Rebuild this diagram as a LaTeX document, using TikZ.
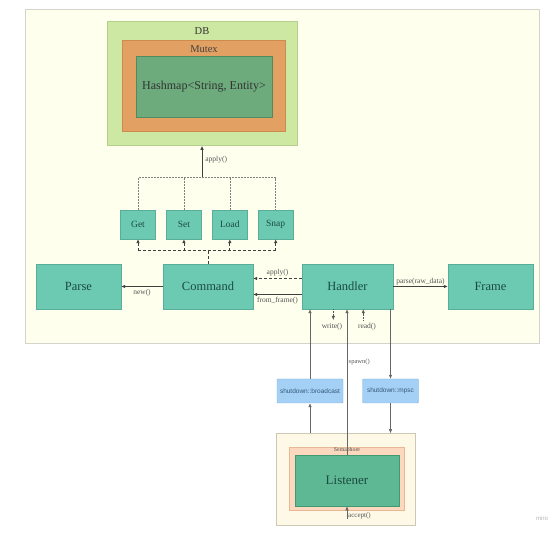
\documentclass[tikz,border=0pt]{standalone}
\usepackage{fontspec}
\setmainfont{Liberation Serif}
\setsansfont{Liberation Sans}
\usepackage{xcolor}
\usetikzlibrary{arrows.meta,positioning}
\definecolor{framebg}{HTML}{FFFFEE}
\definecolor{frameline}{HTML}{D4D4CC}
\definecolor{dbgreen}{HTML}{CDE8A2}
\definecolor{dbline}{HTML}{B4D08C}
\definecolor{mutexorange}{HTML}{E2A062}
\definecolor{mutexline}{HTML}{CF8A4E}
\definecolor{hashgreen}{HTML}{6DAA7C}
\definecolor{hashline}{HTML}{4F8A60}
\definecolor{tealfill}{HTML}{6CCAB2}
\definecolor{tealline}{HTML}{58AE98}
\definecolor{tealtext}{HTML}{1B4A42}
\definecolor{shutblue}{HTML}{A4D0F5}
\definecolor{shutline}{HTML}{7EB2E2}
\definecolor{shuttext}{HTML}{35587A}
\definecolor{lcream}{HTML}{FDF9E6}
\definecolor{lcreamline}{HTML}{CCC8B4}
\definecolor{sempeach}{HTML}{FCD9BE}
\definecolor{sempeachline}{HTML}{E6B896}
\definecolor{listgreen}{HTML}{5FB894}
\definecolor{listline}{HTML}{3F9A74}
\definecolor{lblgray}{HTML}{555555}
\tikzset{
  container/.style={
    draw,
    line width=0.6pt,
    inner sep=0pt
  },
  teal/.style={
    draw=tealline,
    fill=tealfill,
    text=tealtext,
    inner sep=0pt,
    minimum height=45pt,
    minimum width=85pt,
    font=\fontsize{12.5}{14}\selectfont
  },
  op/.style={
    draw=tealline,
    fill=tealfill,
    text=tealtext,
    inner sep=0pt,
    minimum height=29pt,
    minimum width=35pt,
    font=\fontsize{9.5}{11}\selectfont
  },
  shut/.style={
    draw=shutline,
    fill=shutblue,
    text=shuttext,
    rounded corners=1pt,
    inner sep=0pt,
    minimum height=24pt,
    font=\sffamily\fontsize{6.5}{7}\selectfont
  },
  lbl/.style={
    text=lblgray,
    inner sep=1pt,
    font=\fontsize{7.5}{9}\selectfont
  },
  flow/.style={-{Latex[length=4pt,width=3.6pt]}, line width=0.8pt, draw=black!75},
  dashedflow/.style={-{Latex[length=4pt,width=3.6pt]}, line width=0.8pt, draw=black!75, dash pattern=on 3pt off 2pt},
  thinflow/.style={-{Latex[length=4pt,width=3.4pt]}, line width=0.45pt, draw=black!60},
  dotflow/.style={-{Latex[length=4pt,width=3.4pt]}, line width=0.5pt, draw=black!65, densely dotted},
  branch/.style={line width=0.5pt, draw=black!50, densely dotted}
}
\begin{document}
\begin{tikzpicture}[x=1pt, y=-1pt]
  \useasboundingbox (0,0) rectangle (560,534);
  % background frame
  \node[container, draw=frameline, fill=framebg, minimum width=514pt, minimum height=334pt] (board) at (282,176) {};

  % database
  \node[container, draw=dbline, fill=dbgreen, minimum width=190pt, minimum height=124pt] (db) at (202,83.5) {};
  \node[font=\fontsize{10.5}{12}\selectfont, text=black!80, below=3pt of db.north] (dbtitle) {DB};
  \node[container, draw=mutexline, fill=mutexorange, minimum width=163pt, minimum height=91pt] (mutex) at (204,86) {};
  \node[font=\fontsize{10.5}{12}\selectfont, text=black!75, below=2pt of mutex.north] (mutextitle) {Mutex};
  \node[container, draw=hashline, fill=hashgreen, text=black!80, minimum width=136pt, minimum height=61pt, font=\fontsize{12}{14}\selectfont] (hashmap) at (204,87) {Hashmap<String, Entity>};

  % commands
  \node[op] (get) at (138,224.5) {Get};
  \node[op, right=10.5pt of get] (set) {Set};
  \node[op, right=10.5pt of set] (load) {Load};
  \node[op, right=10.5pt of load] (snap) {Snap};

  \node[teal] (parse) at (78.5,286.5) {Parse};
  \node[teal, minimum width=90pt] (command) at (208,286.5) {Command};
  \node[teal, minimum width=91pt] (handler) at (347.5,286.5) {Handler};
  \node[teal] (frame) at (490.5,286.5) {Frame};

  % shutdown channels
  \node[shut, minimum width=66pt] (bcast) at (310,391) {shutdown::broadcast};
  \node[shut, minimum width=56pt] (mpsc) at (390.5,391) {shutdown::mpsc};

  % listener
  \node[container, draw=lcreamline, fill=lcream, minimum width=139pt, minimum height=92pt] (listenerbox) at (345.5,479.5) {};
  \node[container, draw=sempeachline, fill=sempeach, minimum width=115pt, minimum height=63pt] (semaphore) at (347,479) {};
  \node[font=\fontsize{5.8}{6.5}\selectfont, text=black!70, inner sep=0.5pt, below=0pt of semaphore.north] (semtitle) {Semaphore};
  \node[container, draw=listline, fill=listgreen, text=tealtext, minimum width=104pt, minimum height=51pt, font=\fontsize{13}{15}\selectfont] (listener) at (347,480.5) {Listener};

  % apply tree
  \coordinate (fork) at (202,177.7);
  \draw[flow] (fork) -- (fork |- db.south) node[lbl, pos=0.55, right=2pt] (applytop) {apply()};
  \draw[branch] (get.north) |- (snap.north |- fork) -- (snap.north);
  \draw[branch] (set.north) -- (set.north |- fork);
  \draw[branch] (load.north) -- (load.north |- fork);

  \coordinate (split) at (208,250.7);
  \draw[line width=0.8pt, draw=black!75, dash pattern=on 3pt off 2pt] (command.north) -- (split);
  \draw[line width=0.8pt, draw=black!75, dash pattern=on 3pt off 2pt] (get.south |- split) -- (snap.south |- split);
  \foreach \n in {get,set,load,snap}
    \draw[dashedflow] (\n.south |- split) -- (\n.south);

  % handler links
  \draw[dashedflow] ([yshift=8pt]handler.west) -- ([yshift=8pt]handler.west -| command.east)
    node[lbl, midway, above=1pt] (applymid) {apply()};
  \draw[flow] ([yshift=-8pt]handler.west) -- ([yshift=-8pt]handler.west -| command.east)
    node[lbl, midway, below=1pt] (fromframe) {from\_frame()};
  \draw[flow] (command.west) -- (parse.east) node[lbl, midway, below=1.5pt] (newlbl) {new()};
  \draw[flow] (handler.east) -- (frame.west) node[lbl, midway, above=0.5pt] (parselbl) {parse(raw\_data)};

  \node[lbl] (writelbl) at (332,326.5) {write()};
  \node[lbl] (readlbl) at (367,326.5) {read()};
  \draw[dotflow] (handler.south -| 333.3,0) -- (333.3,320);
  \draw[dotflow] (363.3,320.5) -- (handler.south -| 363.3,0);

  % shutdown and spawn
  \draw[thinflow] (bcast.north) -- (bcast.north |- handler.south);
  \draw[thinflow] (listenerbox.north -| bcast) -- (bcast.south);
  \draw[thinflow] (mpsc.north |- handler.south) -- (mpsc.north);
  \draw[thinflow] (mpsc.south) -- (mpsc.south |- listenerbox.north);
  \draw[thinflow] (listener.north) -- (listener.north |- handler.south)
    node[lbl, pos=0.64, right=0.5pt, font=\fontsize{6.5}{8}\selectfont] (spawnlbl) {spawn()};

  \coordinate (acceptin) at (347,519);
  \draw[thinflow] (acceptin) -- (listener.south);
  \node[lbl, right=0pt of acceptin, yshift=3pt, font=\fontsize{7}{8}\selectfont] (acceptlbl) {accept()};

  \node[text=black!30, font=\sffamily\fontsize{6}{7}\selectfont] (miro) at (542,518) {miro};
\end{tikzpicture}
\end{document}
